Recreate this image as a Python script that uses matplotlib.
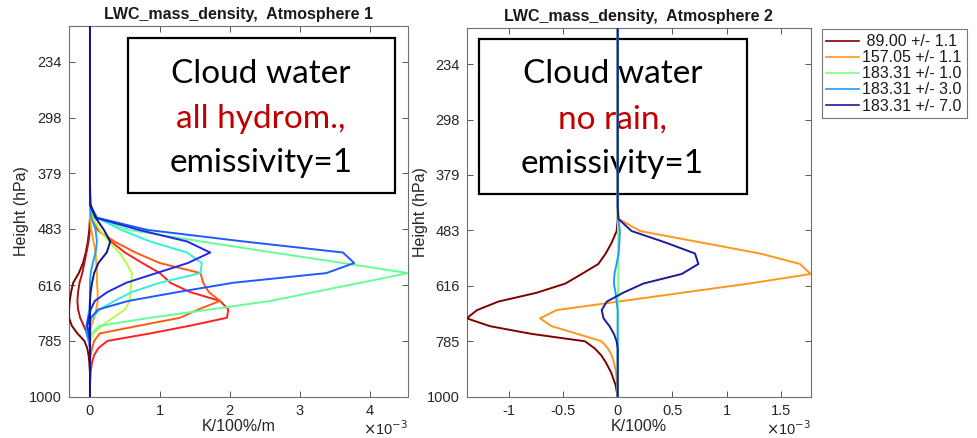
import numpy as np
import matplotlib
matplotlib.use('Agg')
import matplotlib.pyplot as plt
from matplotlib.patches import Rectangle
from matplotlib.ticker import FuncFormatter, NullLocator

plt.rcParams['font.family'] = ['Liberation Sans', 'DejaVu Sans']
plt.rcParams['axes.unicode_minus'] = False

# pressure levels (hPa) shared by every profile
levels = [200, 300, 400, 435, 460, 485, 510, 535, 560, 585, 610, 635,
          660, 685, 710, 735, 760, 785, 810, 835, 860, 900, 950, 1000]
ytick_hpa = [234, 298, 379, 483, 616, 785, 1000]
unit = 1e-3

# Atmosphere 1, all hydrometeors (x 1e-3 K/100%/m)
a1_darkred = [0, 0, 0, 0, 0, -0.01, -0.03, -0.06, -0.1, -0.16, -0.24, -0.27,
              -0.29, -0.3, -0.3, -0.26, -0.18, -0.08, -0.04, -0.02, -0.01, 0, 0, 0]
a1_brown = [0, 0, 0, 0, 0, 0, -0.02, -0.05, -0.08, -0.11, -0.15, -0.17,
            -0.18, -0.17, -0.14, -0.09, -0.04, -0.01, 0, 0, 0, 0, 0, 0]
a1_red = [0, 0, 0, 0, 0.04, 0.12, 0.3, 0.5, 0.75, 1.0, 1.15, 1.43,
          1.86, 1.98, 1.96, 1.43, 0.86, 0.25, 0.12, 0.06, 0.03, 0.01, 0, 0]
a1_orangered = [0, 0, 0, 0, 0.02, 0.1, 0.35, 0.65, 1.0, 1.58, 1.62, 1.7,
                1.86, 1.55, 1.29, 0.7, 0.14, 0.06, 0.03, 0.01, 0, 0, 0, 0]
a1_orange = [0, 0, 0, 0, 0, 0.02, 0.05, 0.08, 0.09, 0.1, 0.1, 0.11,
             0.11, 0.09, 0.06, 0.02, 0, 0, 0, 0, 0, 0, 0, 0]
a1_yellow = [0, 0, 0, 0, 0.04, 0.14, 0.27, 0.42, 0.52, 0.6, 0.59, 0.58,
             0.57, 0.5, 0.33, 0.17, 0.05, 0, 0, 0, 0, 0, 0, 0]
a1_green = [0, 0, 0, 0, 0.08, 0.55, 1.59, 2.62, 3.62, 4.55, 3.87, 3.21,
            2.58, 1.72, 0.86, 0.14, 0.02, 0, 0, 0, 0, 0, 0, 0]
a1_cyan = [0, 0, 0, 0, 0.1, 0.45, 0.86, 1.39, 1.6, 1.58, 1.0, 0.6,
           0.35, 0.14, 0.03, 0, 0, 0, 0, 0, 0, 0, 0, 0]
a1_lightblue = [0, 0, 0, 0, 0.02, 0.08, 0.1, 0.08, 0.04, 0.01, 0, 0,
                0, -0.01, -0.03, -0.05, -0.05, -0.02, 0, 0, 0, 0, 0, 0]
a1_blue = [0, 0, 0, 0, 0.1, 0.82, 2.2, 3.62, 3.78, 3.38, 2.05, 1.26,
           0.55, 0.12, 0.01, -0.04, -0.02, 0, 0, 0, 0, 0, 0, 0]
a1_royal = [0, 0, 0, 0, 0.08, 0.7, 1.39, 1.72, 1.4, 0.95, 0.52, 0.25,
            0.07, 0.01, -0.02, -0.04, -0.01, 0, 0, 0, 0, 0, 0, 0]
a1_navy = [0, 0, 0, 0.01, 0.08, 0.2, 0.29, 0.24, 0.12, 0.06, 0.03, 0.01,
           0, 0, 0, 0, 0, 0, 0, 0, 0, 0, 0, 0]

a1_profiles = [a1_darkred, a1_brown, a1_red, a1_orangered, a1_orange, a1_yellow,
               a1_green, a1_cyan, a1_lightblue, a1_blue, a1_royal, a1_navy]
a1_colors = ['#800000', '#B01515', '#FF2020', '#FF5A14', '#FFA01E', '#B4FF3C',
             '#64FF96', '#32F0DC', '#1EA0FF', '#1E5AFF', '#1E28E6', '#14148C']

# Atmosphere 2, no rain (x 1e-3 K/100%)
a2_89 = [0, 0, 0, 0, 0, -0.01, -0.055, -0.11, -0.178, -0.33, -0.48, -0.743,
         -1.095, -1.29, -1.385, -1.17, -0.79, -0.30, -0.21, -0.15, -0.11, -0.06, -0.02, 0]
a2_157 = [0, 0, 0, 0, 0.01, 0.205, 0.77, 1.305, 1.673, 1.77, 1.204, 0.591,
          0.006, -0.56, -0.713, -0.606, -0.37, -0.147, -0.09, -0.055, -0.035, -0.015, -0.005, 0]
a2_183_1 = [0, 0, 0, 0, 0, 0.003, 0.005, 0.006, 0.006, 0.005, 0.004, 0.003,
            0.002, 0, 0, 0, 0, 0, 0, 0, 0, 0, 0, 0]
a2_183_3 = [0, 0, 0, 0, 0.005, 0.02, 0.015, 0.008, -0.01, -0.03, -0.035, -0.02,
            -0.01, 0, 0, 0, 0, 0, 0, 0, 0, 0, 0, 0]
a2_183_7 = [0, 0, 0, 0, 0.006, 0.128, 0.44, 0.709, 0.74, 0.587, 0.235, 0.05,
            -0.1, -0.147, -0.13, -0.075, -0.035, -0.01, 0, 0, 0, 0, 0, 0]

a2_profiles = [a2_89, a2_157, a2_183_1, a2_183_3, a2_183_7]
a2_colors = ['#800000', '#FF961E', '#80FF80', '#1E9BFF', '#1C1C98']
a2_labels = [' 89.00 +/- 1.1', '157.05 +/- 1.1', '183.31 +/- 1.0',
             '183.31 +/- 3.0', '183.31 +/- 7.0']

a1_xticks = [0, 1, 2, 3, 4]
a2_xticks = [-1, -0.5, 0, 0.5, 1, 1.5]

W, H = 978, 438
fig = plt.figure(figsize=(W / 100, H / 100), dpi=100)


def panel(rect_px, profiles, colors, labels, xticks, title, xlabel, note, ypad):
    x0, top, x1, bot = rect_px
    ax = fig.add_axes([x0 / W, 1 - bot / H, (x1 - x0) / W, (bot - top) / H])
    lines = []
    for vals, col, lab in zip(profiles, colors, labels):
        ln, = ax.plot(np.array(vals) * unit, levels, color=col, lw=1.4,
                      label=lab, zorder=3)
        lines.append(ln)
    allv = np.concatenate(profiles) * unit
    ax.set_xlim(allv.min(), allv.max())
    ax.set_yscale('log')
    ax.set_ylim(1000, 200)
    ax.set_yticks(ytick_hpa)
    ax.set_yticklabels([str(t) for t in ytick_hpa])
    ax.yaxis.set_minor_locator(NullLocator())
    ax.set_xticks(np.array(xticks) * unit)
    ax.xaxis.set_major_formatter(FuncFormatter(lambda v, p: f'{v / unit:g}'))
    ax.tick_params(direction='in', top=True, right=True, length=4, width=0.7,
                   color='#555555', labelcolor='#262626', labelsize=10.5, pad=5)
    for s in ax.spines.values():
        s.set_color('#707070')
        s.set_linewidth(0.8)
    ax.set_title(title, fontsize=11.5, fontweight='bold', color='#1a1a1a', pad=5)
    ax.set_xlabel(xlabel, fontsize=11.5, color='#262626', labelpad=1)
    ax.set_ylabel('Height (hPa)', fontsize=11.5, color='#262626', labelpad=ypad)
    ax.text(1.0, -0.062, r'$\times$10$^{-3}$', transform=ax.transAxes,
            ha='right', va='top', fontsize=10.5, color='#262626')

    # annotation box drawn beneath the profiles
    bx0, bx1, by0, by1, tx, base = note['box']
    ax.add_patch(Rectangle((bx0, by0), bx1 - bx0, by1 - by0, transform=ax.transAxes,
                           fill=False, ec='black', lw=1.6, zorder=1))
    for txt, col, y in zip(note['text'], ['black', '#C00000', 'black'], base):
        ax.text(tx, y, txt, transform=ax.transAxes, ha='center', va='baseline',
                fontsize=24, color=col, family='Lato', zorder=1)
    return ax, lines


ax1, _ = panel((69, 25.7, 408, 396.7), a1_profiles, a1_colors,
               [None] * len(a1_profiles), a1_xticks,
               'LWC_mass_density,  Atmosphere 1', 'K/100%/m',
               {'box': (0.173, 0.962, 0.550, 0.966, 0.566, (0.845, 0.724, 0.606)),
                'text': ['Cloud water', 'all hydrom.,', 'emissivity=1']}, 0)

ax2, lines2 = panel((466.7, 28.3, 810.7, 396.7), a2_profiles, a2_colors, a2_labels,
                    a2_xticks, 'LWC_mass_density,  Atmosphere 2', 'K/100%',
                    {'box': (0.037, 0.814, 0.549, 0.970, 0.424, (0.851, 0.729, 0.606)),
                     'text': ['Cloud water', 'no rain,', 'emissivity=1']}, -1)

leg = fig.legend(handles=lines2, loc='upper left',
                 bbox_to_anchor=(821.7 / W, 1 - 29.3 / H), bbox_transform=fig.transFigure,
                 borderaxespad=0, fontsize=11.5, frameon=True, fancybox=False,
                 handlelength=2.05, handletextpad=0.2, labelspacing=0.07,
                 borderpad=0.3)
leg.get_frame().set_edgecolor('#555555')
leg.get_frame().set_linewidth(0.8)
for t in leg.get_texts():
    t.set_color('#1a1a1a')
for l in leg.get_lines():
    l.set_linewidth(1.2)

fig.savefig('out.png', dpi=100)
